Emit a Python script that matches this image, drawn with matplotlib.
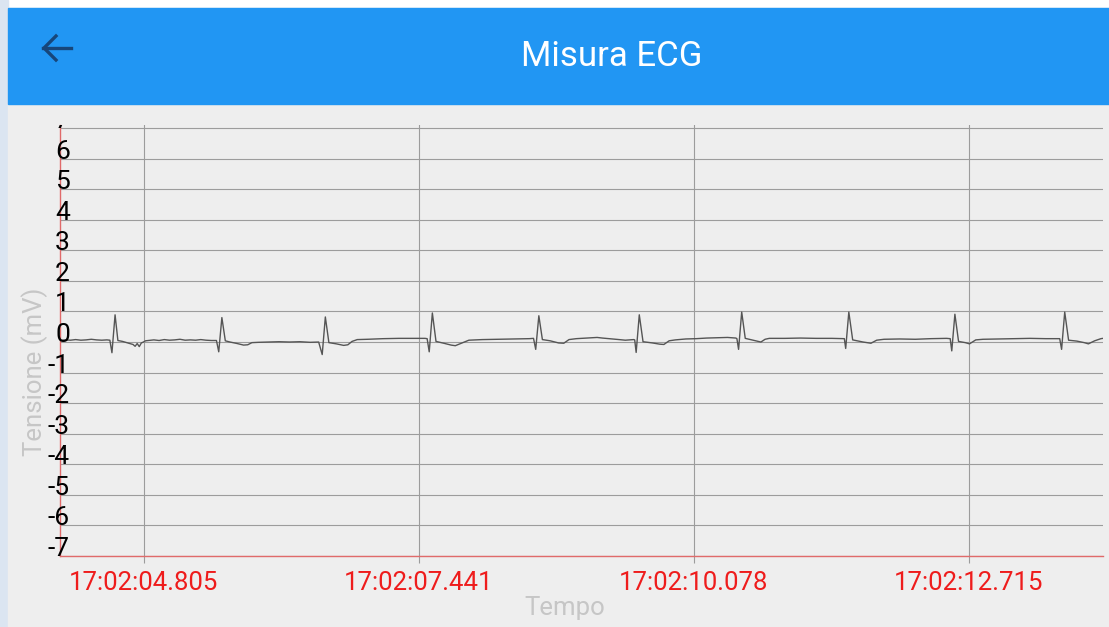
import numpy as np
import matplotlib.pyplot as plt
from matplotlib.patches import Rectangle
from matplotlib.lines import Line2D
from matplotlib.transforms import Bbox, TransformedBbox

plt.rcParams['font.family'] = ['Roboto', 'DejaVu Sans']

# ECG trace: time (s after 17:02:00) and tension (mV)
ecg_t = [4.00, 4.05, 4.10, 4.15, 4.20, 4.25, 4.30, 4.35, 4.40, 4.45, 4.478,
         4.498, 4.528, 4.555, 4.60, 4.65, 4.70, 4.72, 4.74, 4.76, 4.78, 4.80,
         4.82, 4.85, 4.90, 4.95, 5.00, 5.05, 5.10, 5.15, 5.20, 5.25, 5.30,
         5.35, 5.40, 5.45, 5.50,
         5.522, 5.552, 5.585, 5.63, 5.70, 5.76, 5.80, 5.84, 5.90, 6.00, 6.10,
         6.20, 6.30, 6.40, 6.48,
         6.514, 6.544, 6.578, 6.65, 6.72, 6.76, 6.80, 6.85, 6.95, 7.10, 7.25,
         7.40, 7.50, 7.52,
         7.54, 7.570, 7.605, 7.68, 7.75, 7.79, 7.84, 7.92, 8.05, 8.20, 8.35,
         8.50, 8.54,
         8.561, 8.591, 8.625, 8.70, 8.78, 8.83, 8.88, 8.95, 9.05, 9.15, 9.20,
         9.30, 9.36, 9.42, 9.50, 9.51,
         9.524, 9.554, 9.59, 9.68, 9.75, 9.79, 9.84, 9.90, 10.00, 10.10, 10.20,
         10.30, 10.40, 10.48, 10.49,
         10.506, 10.536, 10.57, 10.62, 10.68, 10.72, 10.76, 10.80, 10.95,
         11.10, 11.25, 11.40, 11.50, 11.52,
         11.533, 11.563, 11.60, 11.70, 11.775, 11.83, 11.90, 12.05, 12.20,
         12.35, 12.50, 12.535,
         12.55, 12.580, 12.615, 12.68, 12.72, 12.78, 12.85, 13.00, 13.15,
         13.30, 13.45, 13.585,
         13.603, 13.633, 13.67, 13.75, 13.82, 13.86, 13.92, 13.98, 14.00]
ecg_mv = [0.06, 0.07, 0.06, 0.08, 0.06, 0.07, 0.09, 0.07, 0.06, 0.07, 0.06,
          -0.35, 0.89, 0.05, 0.02, -0.03, -0.08, -0.14, -0.05, -0.15, -0.03, 0.00,
          0.04, 0.05, 0.07, 0.05, 0.08, 0.06, 0.07, 0.09, 0.06, 0.07, 0.06,
          0.08, 0.06, 0.05, 0.05,
          -0.32, 0.80, 0.04, 0.00, -0.05, -0.10, -0.09, -0.02, -0.01, 0.00, 0.01,
          0.00, 0.01, -0.01, 0.00,
          -0.41, 0.82, -0.02, -0.06, -0.11, -0.09, 0.02, 0.08, 0.09, 0.11, 0.12,
          0.12, 0.12, 0.11,
          -0.32, 0.95, 0.02, -0.04, -0.10, -0.12, -0.05, 0.06, 0.08, 0.09, 0.10,
          0.11, 0.12,
          -0.24, 0.86, 0.08, 0.04, -0.03, -0.04, 0.08, 0.11, 0.13, 0.15, 0.13,
          0.10, 0.08, 0.06, 0.08, 0.07,
          -0.34, 0.89, 0.01, -0.03, -0.07, -0.08, 0.04, 0.07, 0.10, 0.11, 0.13,
          0.14, 0.15, 0.13, 0.11,
          -0.24, 0.98, 0.12, 0.08, 0.03, 0.00, 0.09, 0.12, 0.12,
          0.13, 0.12, 0.12, 0.11, 0.11,
          -0.21, 0.98, 0.07, 0.00, -0.04, 0.06, 0.09, 0.10, 0.09,
          0.11, 0.12, 0.11,
          -0.29, 0.91, 0.02, -0.02, -0.06, 0.07, 0.09, 0.10, 0.11,
          0.12, 0.11, 0.11,
          -0.24, 0.98, 0.06, 0.03, -0.02, -0.06, 0.04, 0.11, 0.12]

x_ticks = [4.805, 7.441, 10.078, 12.715]
x_labels = ['17:02:04.805', '17:02:07.441', '17:02:10.078', '17:02:12.715']
y_ticks = list(range(-7, 8))

W, H = 1109, 627
fig = plt.figure(figsize=(W / 100, H / 100), dpi=100, facecolor='white')

def px(x0, y0, w, h):
    # pixel box (top-left origin) -> figure fraction rect
    return (x0 / W, 1 - (y0 + h) / H, w / W, h / H)

# blurred screenshot border
fig.patches.append(Rectangle((0, 0), 8 / W, 1, transform=fig.transFigure,
                             color='#dbe5f1', zorder=-3))
# app background and toolbar
fig.patches.append(Rectangle(px(8, 8, W - 8, H - 8)[:2], (W - 8) / W, (H - 8) / H,
                             transform=fig.transFigure, color='#eeeeee', zorder=-2))
fig.patches.append(Rectangle(px(8, 8, W - 8, 96)[:2], (W - 8) / W, 96 / H,
                             transform=fig.transFigure, color='#2196f3', zorder=-1))
fig.text(612 / W, 1 - 57 / H, 'Misura ECG', color='white', fontsize=25,
         ha='center', va='center')
# back arrow
arrow_col = '#17467a'
fig.lines.append(Line2D([43 / W, 71 / W], [1 - 48 / H, 1 - 48 / H],
                        transform=fig.transFigure, color=arrow_col, lw=2.4))
fig.lines.append(Line2D([56 / W, 44 / W, 56 / W], [1 - 36 / H, 1 - 48 / H, 1 - 60 / H],
                        transform=fig.transFigure, color=arrow_col, lw=2.4,
                        solid_joinstyle='miter'))

# plot area
left, top, right, bottom = 60, 125, 1103, 556
ax = fig.add_axes(px(left, top, right - left, bottom - top))
ax.set_facecolor('#eeeeee')
ax.plot(ecg_t, ecg_mv, color='#555555', lw=1.0, zorder=3)
ax.set_xlim(4.0, 14.0)
ax.set_ylim(-7, 7.1)

ax.set_yticks(y_ticks)
ax.set_xticks(x_ticks)
ax.set_xticklabels(x_labels)
ax.grid(True, color='#9c9c9c', lw=0.8)
ax.tick_params(axis='x', length=5, width=0.8, color='#9c9c9c', pad=5.5,
               labelcolor='#ee1c1c', labelsize=18.5)
ax.tick_params(axis='y', length=0, labelleft=False)
for s in ['top', 'right']:
    ax.spines[s].set_visible(False)
for s in ['left', 'bottom']:
    ax.spines[s].set_color('#e06a6a')
    ax.spines[s].set_linewidth(1.0)
    ax.spines[s].set_zorder(4)

# y labels sit over the axis line, baseline on the gridline
clip = TransformedBbox(Bbox([[0, 0], [1, 1 - top / H]]), fig.transFigure)
for v in y_ticks:
    t = ax.text(10 / (right - left), v, str(v), transform=ax.get_yaxis_transform(),
                ha='right', va='baseline', fontsize=19, color='black', zorder=5)
    t.set_clip_box(clip)
    t.set_clip_on(True)

fig.text(565 / W, 1 - 608 / H, 'Tempo', color='#c6c6c6', fontsize=18.5,
         ha='center', va='center')
fig.text(35 / W, 1 - 372 / H, 'Tensione (mV)', color='#c6c6c6', fontsize=18.5,
         rotation=90, ha='center', va='center')

fig.savefig('out.png', dpi=100, facecolor=fig.get_facecolor())
